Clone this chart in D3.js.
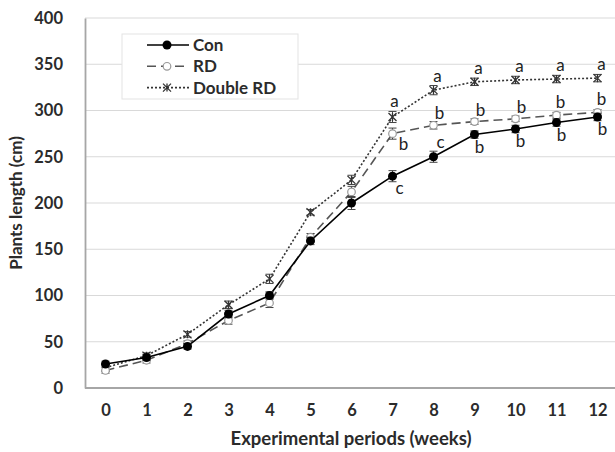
<!DOCTYPE html>
<html><head><meta charset="utf-8">
<script src="https://cdn.jsdelivr.net/npm/d3@7"></script>
<style>body{margin:0;background:#fff}svg{display:block}text{font-family:Lato,"Open Sans",sans-serif}</style>
</head><body><svg id="c" width="615" height="452"></svg>
<script>
const weeks = ["0","1","2","3","4","5","6","7","8","9","10","11","12"];
const yTicks = [0,50,100,150,200,250,300,350,400];
const conVals = [26,33,45,80,100,159,200,229,250,274,280,287,293];
const rdVals = [19,30,48,73,92,163,212,275,284,288,291,295,298];
const drdVals = [22,35,58,90,118,190,225,293,322,331,333,334,335];
const conErr = [3,3,3,4,4,4,7,6,6,4,4,4,4];
const rdErr = [3,3,3,4,5,4,6,6,4,3,3,3,3];
const drdErr = [3,3,3,4,5,3,5,6,5,4,4,4,4];
const conLetters = [null,null,null,null,null,null,null,"c","c","b","b","b","b"];
const rdLetters = [null,null,null,null,null,null,null,"b","b","b","b","b","b"];
const drdLetters = [null,null,null,null,null,null,null,"a","a","a","a","a","a"];
const seriesNames = ["Con","RD","Double RD"];

const svg = d3.select("#c");
const x = d3.scalePoint().domain(weeks).range([85, 618]).padding(0.5);
const y = d3.scaleLinear().domain([0,400]).range([388,18]);
const txtCol = "#2b2b2b";

// grid
svg.append("g").selectAll("line").data(yTicks.slice(1)).join("line")
  .attr("x1",85).attr("x2",615).attr("y1",d=>y(d)).attr("y2",d=>y(d))
  .attr("stroke","#d9d9d9").attr("stroke-width",1.2);

// axes
const yAxis = svg.append("g").attr("transform","translate(85,0)")
  .call(d3.axisLeft(y).tickValues(yTicks).tickSize(0).tickPadding(22));
yAxis.select(".domain").attr("stroke","#a6a6a6").attr("stroke-width",1.8);
yAxis.selectAll("text").attr("font-size",16.5).attr("font-weight","bold").attr("fill",txtCol);
svg.append("line").attr("x1",85).attr("x2",615).attr("y1",388).attr("y2",388).attr("stroke","#a6a6a6").attr("stroke-width",1.8);
const xAxis = svg.append("g").attr("transform","translate(0,388)")
  .call(d3.axisBottom(x).tickSize(0).tickPadding(16));
xAxis.select(".domain").remove();
xAxis.selectAll("text").attr("font-size",16.5).attr("font-weight","bold").attr("fill",txtCol);

svg.append("text").attr("x",351).attr("y",445).attr("text-anchor","middle")
  .attr("font-size",18.5).attr("font-weight","bold").attr("fill",txtCol).text("Experimental periods (weeks)");
svg.append("text").attr("transform","translate(22,203) rotate(-90)").attr("text-anchor","middle")
  .attr("font-size",17).attr("font-weight","bold").attr("fill",txtCol).text("Plants length (cm)");

const series = [
  {name:seriesNames[0], vals:conVals, err:conErr, letters:conLetters, dash:null, color:"#000", w:1.6, marker:"dot"},
  {name:seriesNames[1], vals:rdVals, err:rdErr, letters:rdLetters, dash:"9,5", color:"#555", w:1.6, marker:"open"},
  {name:seriesNames[2], vals:drdVals, err:drdErr, letters:drdLetters, dash:"2,2", color:"#333", w:1.6, marker:"star"}
];
const line = d3.line().x((d,i)=>x(weeks[i])).y(d=>y(d));

function drawMarker(g, type, cx, cy){
  if(type==="dot") g.append("circle").attr("cx",cx).attr("cy",cy).attr("r",4.5).attr("fill","#000");
  else if(type==="open") g.append("circle").attr("cx",cx).attr("cy",cy).attr("r",3.8).attr("fill","#fff").attr("stroke","#999").attr("stroke-width",1.2);
  else {
    const s=4;
    g.append("path").attr("d",`M${cx-s},${cy-s}L${cx+s},${cy+s}M${cx-s},${cy+s}L${cx+s},${cy-s}M${cx},${cy-s}L${cx},${cy+s}`)
      .attr("stroke","#333").attr("stroke-width",1.3);
  }
}

[series[2],series[1],series[0]].forEach(s=>{
  const g = svg.append("g");
  g.append("path").datum(s.vals).attr("d",line).attr("fill","none")
    .attr("stroke",s.color).attr("stroke-width",s.w).attr("stroke-dasharray",s.dash);
  s.vals.forEach((v,i)=>{
    const cx=x(weeks[i]);
    const e=s.err[i];
    g.append("path").attr("d",`M${cx},${y(v-e)}L${cx},${y(v+e)}M${cx-4},${y(v-e)}L${cx+4},${y(v-e)}M${cx-4},${y(v+e)}L${cx+4},${y(v+e)}`)
      .attr("stroke","#444").attr("stroke-width",1).attr("fill","none");
    drawMarker(g,s.marker,cx,y(v));
  });
});

// letters
function letter(txt, px, py){
  svg.append("text").attr("x",px).attr("y",py).attr("font-size",17).attr("fill","#222")
    .attr("text-anchor","middle").text(txt);
}
weeks.forEach((w,i)=>{
  const cx=x(w);
  if(drdLetters[i]){
    letter(drdLetters[i], cx+(i===7?2:4), y(drdVals[i])-(i===7?10:8));
  }
  if(rdLetters[i]){
    if(i===7) letter(rdLetters[i], cx+11, y(rdVals[i])+16);
    else letter(rdLetters[i], cx+(i<=10?6:4), y(rdVals[i])-(i<=10?6:7));
  }
  if(conLetters[i]){
    if(i===7) letter(conLetters[i], cx+7, y(conVals[i])+18);
    else if(i===8) letter(conLetters[i], cx+7, y(conVals[i])-9);
    else letter(conLetters[i], cx+5, y(conVals[i])+18);
  }
});

// legend
const lg = svg.append("g");
lg.append("rect").attr("x",122).attr("y",34).attr("width",176).attr("height",65).attr("fill","#fff").attr("stroke","#e3e3e3");
series.forEach((s,i)=>{
  const ly = 45 + i*21.3;
  lg.append("line").attr("x1",147).attr("x2",189).attr("y1",ly).attr("y2",ly)
    .attr("stroke",s.color).attr("stroke-width",1.6).attr("stroke-dasharray",s.dash);
  drawMarker(lg,s.marker,167,ly);
  lg.append("text").attr("x",193).attr("y",ly+6).attr("font-size",17).attr("font-weight","bold").attr("fill",txtCol).text(s.name);
});
</script></body></html>
